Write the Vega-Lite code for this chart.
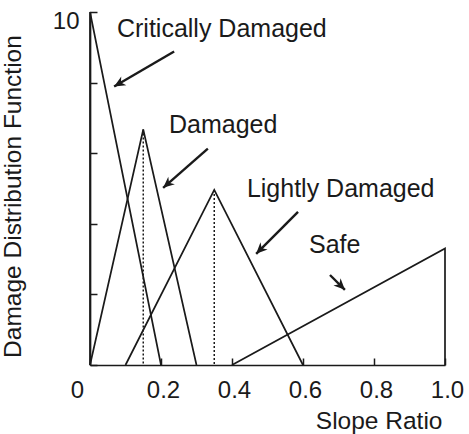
{
  "$schema": "https://vega.github.io/schema/vega-lite/v6.json",
  "width": 355,
  "height": 353,
  "autosize": {"type": "none"},
  "padding": {"left": 90, "top": 12, "right": 24, "bottom": 69},
  "background": "white",
  "config": {
    "view": {"stroke": null},
    "font": "Liberation Sans",
    "axis": {
      "domainColor": "#1a1a1a",
      "domainWidth": 1.7,
      "tickColor": "#1a1a1a",
      "tickWidth": 1.5,
      "tickSize": -7,
      "grid": false,
      "labelFont": "Liberation Sans",
      "labelFontSize": 24,
      "labelColor": "#1a1a1a",
      "titleFont": "Liberation Sans",
      "titleFontSize": 24.5,
      "titleFontWeight": "normal",
      "titleColor": "#1a1a1a"
    }
  },
  "datasets": {
    "curves": [
      {"series": "Critically Damaged", "idx": 0, "x": 0, "y": 0},
      {"series": "Critically Damaged", "idx": 1, "x": 0, "y": 10},
      {"series": "Critically Damaged", "idx": 2, "x": 0.2, "y": 0},
      {"series": "Damaged", "idx": 0, "x": 0, "y": 0},
      {"series": "Damaged", "idx": 1, "x": 0.15, "y": 6.67},
      {"series": "Damaged", "idx": 2, "x": 0.3, "y": 0},
      {"series": "Lightly Damaged", "idx": 0, "x": 0.1, "y": 0},
      {"series": "Lightly Damaged", "idx": 1, "x": 0.35, "y": 4.96},
      {"series": "Lightly Damaged", "idx": 2, "x": 0.6, "y": 0},
      {"series": "Safe", "idx": 0, "x": 0.4, "y": 0},
      {"series": "Safe", "idx": 1, "x": 1.0, "y": 3.3},
      {"series": "Safe", "idx": 2, "x": 1.0, "y": 0}
    ],
    "peaks": [
      {"series": "Damaged", "x": 0.15, "y": 6.67},
      {"series": "Lightly Damaged", "x": 0.35, "y": 4.96}
    ],
    "arrows": [
      {"series": "Critically Damaged", "x1": 0.237, "y1": 8.88, "x2": 0.068, "y2": 7.89},
      {"series": "Damaged", "x1": 0.332, "y1": 6.13, "x2": 0.206, "y2": 5.02},
      {"series": "Lightly Damaged", "x1": 0.586, "y1": 4.34, "x2": 0.468, "y2": 3.15},
      {"series": "Safe", "x1": 0.676, "y1": 2.55, "x2": 0.718, "y2": 2.13}
    ],
    "labels": [
      {"series": "Critically Damaged", "x": 0.076, "y": 9.28},
      {"series": "Damaged", "x": 0.2225, "y": 6.58},
      {"series": "Lightly Damaged", "x": 0.442, "y": 4.77},
      {"series": "Safe", "x": 0.617, "y": 3.18}
    ]
  },
  "layer": [
    {
      "data": {"name": "curves"},
      "mark": {"type": "line", "color": "#1a1a1a", "strokeWidth": 1.7},
      "encoding": {
        "x": {
          "field": "x", "type": "quantitative",
          "scale": {"domain": [0, 1], "nice": false, "zero": false},
          "axis": {
            "title": "Slope Ratio",
            "values": [0, 0.1, 0.2, 0.3, 0.4, 0.5, 0.6, 0.7, 0.8, 0.9, 1.0],
            "labelExpr": "datum.value == 0 ? '0' : datum.value == 1 ? '1.0' : (datum.value == 0.2 || datum.value == 0.4 || datum.value == 0.6 || datum.value == 0.8) ? format(datum.value, '.1f') : ''",
            "labelPadding": 20,
            "labelFlush": false,
            "labelOverlap": false,
            "labelOffset": {"condition": {"test": "datum.value == 0", "value": -13}, "value": 2},
            "titleAnchor": "end",
            "titleAlign": "right",
            "titleX": 352,
            "titleY": 63,
            "titleBaseline": "alphabetic"
          }
        },
        "y": {
          "field": "y", "type": "quantitative",
          "scale": {"domain": [0, 10], "nice": false},
          "axis": {
            "title": "Damage Distribution Function",
            "values": [0, 2, 4, 6, 8, 10],
            "labelExpr": "datum.value == 10 ? '10' : ''",
            "labelPadding": 18,
            "labelFlush": false,
            "labelOverlap": false,
            "labelBaseline": "middle",
            "labelOffset": 9,
            "titleX": -77,
            "titleY": 184,
            "titleAnchor": "middle",
            "titleBaseline": "middle",
            "titleAngle": -90
          }
        },
        "detail": {"field": "series"},
        "order": {"field": "idx", "type": "quantitative"}
      }
    },
    {
      "data": {"name": "peaks"},
      "mark": {"type": "rule", "color": "#1a1a1a", "strokeWidth": 1.5, "strokeDash": [2, 2]},
      "encoding": {
        "x": {"field": "x", "type": "quantitative"},
        "y": {"field": "y", "type": "quantitative"},
        "y2": {"datum": 0}
      }
    },
    {
      "data": {"name": "arrows"},
      "mark": {"type": "rule", "color": "#1a1a1a", "strokeWidth": 2.4},
      "encoding": {
        "x": {"field": "x1", "type": "quantitative"},
        "y": {"field": "y1", "type": "quantitative"},
        "x2": {"field": "x2"},
        "y2": {"field": "y2"}
      }
    },
    {
      "data": {"name": "arrows"},
      "transform": [{"filter": "datum.series == 'Critically Damaged'"}],
      "mark": {"type": "point", "shape": "M 0 0 L -1 -0.45 L -0.7 0 L -1 0.45 Z", "filled": true, "color": "#1a1a1a", "opacity": 1, "size": 500, "angle": 149.7},
      "encoding": {
        "x": {"field": "x2", "type": "quantitative"},
        "y": {"field": "y2", "type": "quantitative"}
      }
    },
    {
      "data": {"name": "arrows"},
      "transform": [{"filter": "datum.series == 'Damaged'"}],
      "mark": {"type": "point", "shape": "M 0 0 L -1 -0.45 L -0.7 0 L -1 0.45 Z", "filled": true, "color": "#1a1a1a", "opacity": 1, "size": 500, "angle": 139.1},
      "encoding": {
        "x": {"field": "x2", "type": "quantitative"},
        "y": {"field": "y2", "type": "quantitative"}
      }
    },
    {
      "data": {"name": "arrows"},
      "transform": [{"filter": "datum.series == 'Lightly Damaged'"}],
      "mark": {"type": "point", "shape": "M 0 0 L -1 -0.45 L -0.7 0 L -1 0.45 Z", "filled": true, "color": "#1a1a1a", "opacity": 1, "size": 500, "angle": 135},
      "encoding": {
        "x": {"field": "x2", "type": "quantitative"},
        "y": {"field": "y2", "type": "quantitative"}
      }
    },
    {
      "data": {"name": "arrows"},
      "transform": [{"filter": "datum.series == 'Safe'"}],
      "mark": {"type": "point", "shape": "M 0 0 L -1 -0.45 L -0.7 0 L -1 0.45 Z", "filled": true, "color": "#1a1a1a", "opacity": 1, "size": 500, "angle": 45},
      "encoding": {
        "x": {"field": "x2", "type": "quantitative"},
        "y": {"field": "y2", "type": "quantitative"}
      }
    },
    {
      "data": {"name": "labels"},
      "mark": {"type": "text", "align": "left", "baseline": "alphabetic", "font": "Liberation Sans", "fontSize": 25, "color": "#1a1a1a"},
      "encoding": {
        "x": {"field": "x", "type": "quantitative"},
        "y": {"field": "y", "type": "quantitative"},
        "text": {"field": "series"}
      }
    }
  ]
}
